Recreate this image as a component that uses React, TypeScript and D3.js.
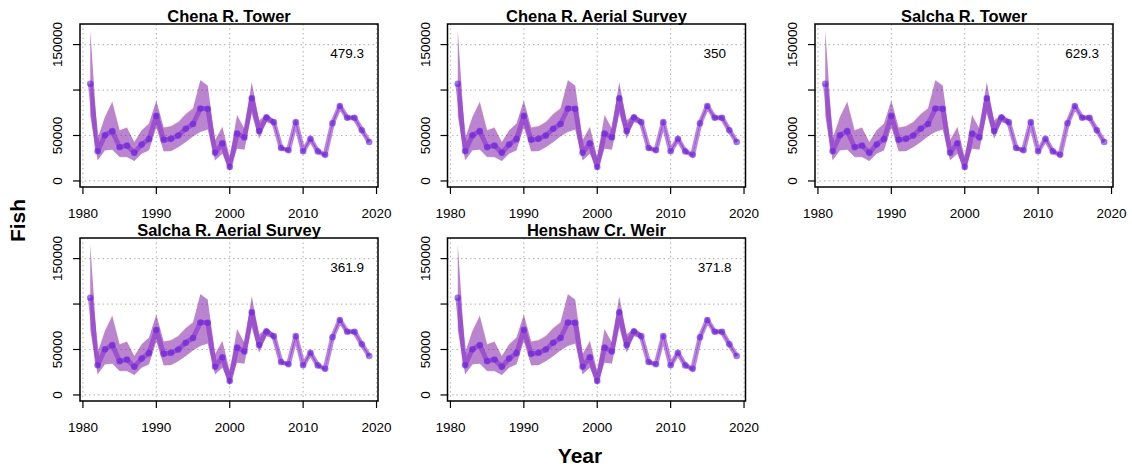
import React from "react";
import * as d3 from "d3";

const years = [1981, 1982, 1983, 1984, 1985, 1986, 1987, 1988, 1989, 1990, 1991, 1992, 1993, 1994, 1995, 1996, 1997, 1998, 1999, 2000, 2001, 2002, 2003, 2004, 2005, 2006, 2007, 2008, 2009, 2010, 2011, 2012, 2013, 2014, 2015, 2016, 2017, 2018, 2019];

const panelTitles = ["Chena R. Tower", "Chena R. Aerial Survey", "Salcha R. Tower", "Salcha R. Aerial Survey", "Henshaw Cr. Weir"];
const panelStats = ["479.3", "350", "629.3", "361.9", "371.8"];

// blue model: estimate and interval
const blueMid = [107000, 32700, 50300, 54800, 37100, 39000, 30900, 40100, 46000, 71700, 45200, 46300, 50000, 57500, 62700, 79700, 79500, 30900, 41500, 15300, 52200, 47800, 91000, 54800, 70000, 64700, 36200, 33800, 64700, 32700, 46300, 32500, 28700, 63500, 82500, 69500, 69500, 55800, 42800];
const blueHi = [166000, 46300, 70200, 86500, 55500, 58500, 42600, 55500, 62900, 88600, 58500, 59900, 64700, 73200, 79400, 111400, 105100, 44500, 59200, 26100, 72100, 57400, 108800, 66500, 73200, 67500, 38000, 35500, 67000, 34200, 48000, 34000, 30000, 65500, 84500, 71200, 71200, 57300, 44200];
const blueLo = [72000, 22400, 33500, 34200, 26100, 26100, 21700, 29800, 33500, 59200, 32700, 32700, 37100, 42600, 48900, 53700, 56200, 22400, 29800, 10700, 35300, 34200, 73900, 46300, 64700, 62000, 34500, 32200, 62500, 31200, 44600, 31000, 27400, 61500, 80500, 67800, 67800, 54300, 41400];

// red model: estimate and interval
const redMid = [106000, 32800, 50400, 55000, 37200, 39100, 31000, 40200, 46100, 71600, 45300, 46400, 50100, 57600, 62800, 79600, 79400, 31000, 41600, 15400, 52300, 47900, 90800, 54900, 70100, 64700, 36200, 33800, 64700, 32700, 46300, 32500, 28700, 63500, 82500, 69500, 69500, 55800, 42800];
const redHi = [165000, 46800, 71200, 87800, 56000, 59000, 43000, 56000, 63500, 88300, 59200, 60600, 65500, 74200, 80400, 110200, 104700, 45500, 60000, 26400, 73100, 57800, 108200, 66900, 73300, 67500, 38000, 35500, 67000, 34200, 48000, 34000, 30000, 65500, 84500, 71200, 71200, 57300, 44200];
const redLo = [71500, 22700, 33900, 34700, 26700, 26700, 22200, 30100, 33900, 58800, 32500, 33000, 37400, 42900, 49100, 54400, 56800, 22700, 30100, 10900, 35600, 34500, 74300, 46600, 64800, 62000, 34500, 32200, 62500, 31200, 44600, 31000, 27400, 61500, 80500, 67800, 67800, 54300, 41400];

const xTicks = [1980, 1990, 2000, 2010, 2020];
const yTicks = [0, 50000, 100000, 150000];
const yTickLabels = ["0", "50000", "", "150000"];

const W = 1132;
const H = 473;
const PW = 298;
const PH = 163;
const colX = [80, 447.5, 815];
const rowY = [24, 238];
const FONT = "'Liberation Sans', Arial, Helvetica, sans-serif";

const yMax = 166000;

function Panel({ idx }: { idx: number }) {
  const left = colX[idx % 3];
  const top = rowY[Math.floor(idx / 3)];
  const x = d3.scaleLinear().domain([1979.6, 2020.2]).range([left, left + PW]);
  const y = d3.scaleLinear().domain([-0.04 * yMax, 1.04 * yMax]).range([top + PH, top]);

  const area = (lo: number[], hi: number[]) =>
    d3.area<number>()
      .x((_, i) => x(years[i]))
      .y0((_, i) => y(lo[i]))
      .y1((_, i) => y(hi[i]))(years as any) as string;
  const line = (mid: number[]) =>
    d3.line<number>()
      .x((_, i) => x(years[i]))
      .y((_, i) => y(mid[i]))(years as any) as string;

  const clipId = `clip${idx}`;
  return (
    <g>
      <defs>
        <clipPath id={clipId}>
          <rect x={left} y={top} width={PW} height={PH} />
        </clipPath>
      </defs>
      {xTicks.map((t) => (
        <line key={"gx" + t} x1={x(t)} x2={x(t)} y1={top} y2={top + PH} stroke="#bdbdbd" strokeWidth={1.2} strokeDasharray="1.5,3" />
      ))}
      {yTicks.map((t) => (
        <line key={"gy" + t} x1={left} x2={left + PW} y1={y(t)} y2={y(t)} stroke="#bdbdbd" strokeWidth={1.2} strokeDasharray="1.5,3" />
      ))}
      <g clipPath={`url(#${clipId})`}>
        <path d={area(redLo, redHi)} fill="rgba(255,0,0,0.27)" />
        <path d={area(blueLo, blueHi)} fill="rgba(20,0,255,0.29)" />
        <path d={line(redMid)} fill="none" stroke="rgba(255,0,0,0.12)" strokeWidth={4.8} strokeLinejoin="round" />
        <path d={line(blueMid)} fill="none" stroke="rgba(120,50,230,0.52)" strokeWidth={4.8} strokeLinejoin="round" />
        {years.map((yr, i) => (
          <circle key={"pb" + yr} cx={x(yr)} cy={y(blueMid[i])} r={3.3} fill="rgba(100,30,230,0.6)" />
        ))}
      </g>
      <rect x={left} y={top} width={PW} height={PH} fill="none" stroke="#000" strokeWidth={1.5} />
      {xTicks.map((t) => (
        <g key={"xt" + t}>
          <line x1={x(t)} x2={x(t)} y1={top + PH} y2={top + PH + 7} stroke="#000" strokeWidth={1.2} />
          <text x={x(t)} y={top + PH + 31} textAnchor="middle" fontSize={13.5} fontFamily={FONT} fill="#000">{t}</text>
        </g>
      ))}
      {yTicks.map((t, i) => (
        <g key={"yt" + t}>
          <line x1={left - 7} x2={left} y1={y(t)} y2={y(t)} stroke="#000" strokeWidth={1.2} />
          {yTickLabels[i] && (
            <text transform={`translate(${left - 18},${y(t)}) rotate(-90)`} textAnchor="middle" fontSize={13.5} fontFamily={FONT} fill="#000">{yTickLabels[i]}</text>
          )}
        </g>
      ))}
      <text x={left + PW / 2} y={top - 2.5} textAnchor="middle" fontSize={16.5} fontWeight="bold" fontFamily={FONT} fill="#000">{panelTitles[idx]}</text>
      <text x={x(2016)} y={y(140000)} dy="0.35em" textAnchor="middle" fontSize={13.5} fontFamily={FONT} fill="#000">{panelStats[idx]}</text>
    </g>
  );
}

export default function App() {
  return (
    <svg width={W} height={H} style={{ position: "absolute", left: 0, top: 0, background: "#fff" }}>
      <rect x={0} y={0} width={W} height={H} fill="#fff" />
      {panelTitles.map((_, i) => (
        <Panel key={i} idx={i} />
      ))}
      <text transform="translate(25,220.5) rotate(-90)" textAnchor="middle" fontSize={21} fontWeight="bold" fontFamily={FONT} fill="#000">Fish</text>
      <text x={580} y={463} textAnchor="middle" fontSize={21} fontWeight="bold" fontFamily={FONT} fill="#000">Year</text>
    </svg>
  );
}
